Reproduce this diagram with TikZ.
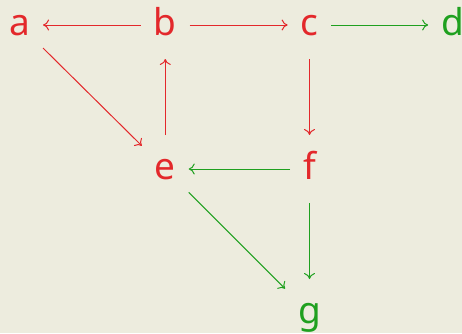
\documentclass[tikz,border=0pt]{standalone}
\usepackage{fontspec}
\setmainfont{Noto Sans}
\usetikzlibrary{arrows.meta}
\definecolor{bgc}{HTML}{EDECDE}
\definecolor{myred}{HTML}{E3282B}
\definecolor{mygreen}{HTML}{1FA01F}
\tikzset{
  lbl/.style={anchor=base, inner xsep=13pt, inner ysep=24pt, outer sep=0pt,
    text height=20pt, text depth=0pt, font=\fontsize{37}{40}\selectfont},
  rn/.style={lbl, text=myred},
  gn/.style={lbl, text=mygreen},
  conn/.style={line width=1pt, -{To[length=6pt,width=11pt]}},
  rc/.style={conn, draw=myred},
  gc/.style={conn, draw=mygreen}
}
\begin{document}
\begin{tikzpicture}[x=1pt,y=1pt]
\fill[bgc] (0,0) rectangle (462,333);
\useasboundingbox (0,0) rectangle (462,333);
\node[rn] (a) at (19.7,298) {a};
\node[rn] (b) at (165.3,298) {b};
\node[rn] (c) at (309.5,298) {c};
\node[gn] (d) at (452.5,298) {d};
\node[rn] (e) at (165.3,154) {e};
\node[rn] (f) at (309.5,154) {f};
\node[gn] (g) at (309.5,10) {g};
\draw[rc] (b) -- (a);
\draw[rc] (b) -- (c);
\draw[gc] (c) -- (d);
\draw[rc] (a) -- (e);
\draw[rc] (e) -- (b);
\draw[rc] (c) -- (f);
\draw[gc] (f) -- (e);
\draw[gc] (e) -- (g);
\draw[gc] (f) -- (g);
\end{tikzpicture}
\end{document}
